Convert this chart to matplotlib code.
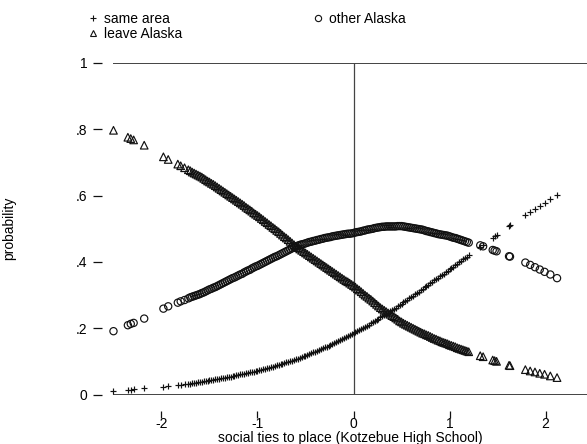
import matplotlib
matplotlib.use("Agg")
import matplotlib.pyplot as plt
from matplotlib.lines import Line2D

# social ties to place (x) and predicted probabilities for each outcome
ties = [-2.50, -2.35, -2.32, -2.29, -2.18, -1.98, -1.93, -1.83, -1.80, -1.76,
        -1.72, -1.68, -1.64, -1.60, -1.56, -1.52, -1.48, -1.44, -1.40, -1.36,
        -1.32, -1.28, -1.24, -1.20, -1.16, -1.12, -1.08, -1.04, -1.00, -0.96,
        -0.92, -0.88, -0.84, -0.80, -0.76, -0.72, -0.68, -0.64, -0.60, -0.56,
        -0.52, -0.48, -0.44, -0.40, -0.36, -0.32, -0.28, -0.24, -0.20, -0.16,
        -0.12, -0.08, -0.04, 0.00, 0.04, 0.08, 0.12, 0.16, 0.20, 0.24,
        0.28, 0.32, 0.36, 0.40, 0.44, 0.48, 0.52, 0.56, 0.60, 0.64,
        0.68, 0.72, 0.76, 0.80, 0.84, 0.88, 0.92, 0.96, 1.00, 1.04,
        1.08, 1.12, 1.16, 1.20, 1.32, 1.35, 1.45, 1.47, 1.49, 1.62,
        1.63, 1.79, 1.84, 1.89, 1.94, 1.99, 2.05, 2.12,
        -1.70, -1.66, -1.62, -1.58, -1.54, -1.50, -1.46, -1.42, -1.38, -1.34,
        -1.30, -1.26, -1.22, -1.18, -1.14, -1.10, -1.06, -1.02, -0.98, -0.94,
        -0.90, -0.86, -0.82, -0.78, -0.74, -0.70, -0.66, -0.62, -0.58, -0.54,
        -0.50, -0.46, -0.42, -0.38, -0.34, -0.30, -0.26, -0.22, -0.18, -0.14,
        -0.10, -0.06, -0.02, 0.02, 0.06, 0.10, 0.14, 0.18, 0.22, 0.26,
        0.30, 0.34, 0.38, 0.42, 0.46, 0.50, 0.54, 0.58, 0.62, 0.66,
        0.70, 0.74, 0.78, 0.82, 0.86, 0.90, 0.94, 0.98, 1.02, 1.06,
        1.10, 1.14, 1.18]

same_area = [.012, .015, .015, .016, .019, .024, .025, .028, .029, .031,
             .032, .034, .036, .038, .040, .042, .044, .046, .048, .050,
             .052, .054, .057, .059, .062, .064, .067, .069, .072, .075,
             .078, .081, .084, .088, .091, .095, .098, .102, .106, .110,
             .115, .119, .124, .129, .134, .139, .144, .150, .155, .161,
             .167, .173, .179, .185, .191, .198, .205, .211, .218, .225,
             .233, .240, .247, .255, .262, .270, .278, .286, .294, .302,
             .310, .318, .327, .335, .344, .352, .361, .369, .378, .386,
             .395, .403, .412, .420, .446, .452, .473, .477, .481, .508,
             .510, .541, .551, .561, .570, .579, .590, .603,
             .033, .035, .037, .039, .041, .043, .045, .047, .049, .051,
             .053, .056, .058, .061, .063, .066, .068, .071, .074, .077,
             .080, .083, .086, .090, .093, .097, .100, .104, .108, .113,
             .117, .122, .127, .132, .137, .142, .147, .153, .158, .164,
             .170, .176, .182, .188, .195, .202, .208, .215, .222, .229,
             .237, .244, .251, .259, .266, .274, .282, .290, .298, .306,
             .314, .323, .331, .340, .348, .357, .365, .374, .382, .391,
             .399, .408, .416]

other_alaska = [.191, .209, .213, .216, .229, .259, .266, .277, .281, .285,
                .290, .295, .299, .303, .308, .314, .319, .324, .330, .336,
                .342, .348, .353, .359, .364, .371, .376, .383, .388, .394,
                .400, .406, .412, .417, .423, .429, .435, .441, .447, .451,
                .454, .458, .461, .464, .467, .470, .473, .475, .478, .480,
                .482, .484, .485, .487, .490, .492, .495, .498, .500, .503,
                .505, .506, .507, .507, .507, .508, .507, .505, .503, .501,
                .499, .497, .493, .490, .487, .484, .482, .480, .477, .473,
                .470, .466, .462, .458, .450, .447, .436, .434, .432, .417,
                .416, .398, .391, .384, .377, .370, .362, .351,
                .293, .297, .301, .306, .311, .317, .322, .327, .333, .339,
                .345, .351, .356, .362, .368, .374, .380, .386, .391, .397,
                .403, .409, .415, .420, .426, .432, .438, .444, .449, .453,
                .456, .460, .463, .466, .469, .472, .474, .477, .479, .481,
                .483, .485, .486, .489, .491, .494, .497, .499, .502, .504,
                .506, .507, .507, .507, .508, .508, .506, .504, .502, .500,
                .498, .495, .492, .489, .486, .483, .481, .479, .475, .472,
                .468, .464, .460]

leave_alaska = [.797, .776, .772, .768, .752, .717, .709, .695, .690, .684,
                .678, .671, .665, .659, .652, .644, .637, .630, .622, .614,
                .606, .598, .590, .582, .574, .565, .557, .548, .540, .531,
                .522, .513, .504, .495, .486, .476, .467, .457, .447, .439,
                .431, .423, .415, .407, .399, .391, .383, .375, .367, .359,
                .351, .343, .336, .328, .319, .310, .300, .291, .282, .272,
                .262, .254, .246, .238, .231, .222, .215, .209, .203, .197,
                .191, .185, .180, .175, .169, .164, .159, .155, .150, .146,
                .141, .137, .133, .129, .117, .114, .104, .102, .100, .088,
                .087, .075, .071, .068, .064, .061, .056, .051,
                .675, .668, .662, .656, .648, .641, .634, .626, .618, .610,
                .602, .594, .586, .578, .570, .561, .553, .544, .536, .527,
                .518, .509, .500, .491, .481, .472, .462, .452, .443, .435,
                .427, .419, .411, .403, .395, .387, .379, .371, .363, .355,
                .347, .340, .332, .324, .315, .305, .296, .287, .277, .267,
                .258, .250, .242, .235, .227, .219, .212, .206, .200, .194,
                .188, .183, .178, .172, .167, .162, .157, .153, .148, .144,
                .139, .135, .131]

xticks = [-2, -1, 0, 1, 2]
xticklabels = ["-2", "-1", "0", "1", "2"]
yticks = [0, 0.2, 0.4, 0.6, 0.8, 1]
yticklabels = ["0", ".2", ".4", ".6", ".8", "1"]

plt.rcParams['font.family'] = ['Liberation Sans', 'DejaVu Sans']
FS = 10

W, H = 587, 444
fig = plt.figure(figsize=(W / 100, H / 100), dpi=100)
ax = fig.add_axes([113 / W, (H - 394.5) / H, (W - 113) / W, 331.5 / H])
ax.set_xlim(-2.505, 2.432)
ax.set_ylim(0, 1)

col = '#111111'
ax.axhline(0, color=col, lw=1.1, zorder=1)
ax.axhline(1, color=col, lw=1.1, zorder=1)
ax.axvline(0, color='#444444', lw=0.9, zorder=1)

ax.scatter(ties, same_area, marker='+', s=16, c=col, linewidths=0.85,
           clip_on=False, zorder=3)
ax.scatter(ties, other_alaska, marker='o', s=27, facecolors='none',
           edgecolors=col, linewidths=0.85, clip_on=False, zorder=3)
ax.scatter(ties, leave_alaska, marker='^', s=30, facecolors='none',
           edgecolors=col, linewidths=0.85, clip_on=False, zorder=3)

for s in ['top', 'right', 'left', 'bottom']:
    ax.spines[s].set_visible(False)
ax.spines['left'].set_position(('outward', 8))
ax.spines['bottom'].set_position(('outward', 12))

ax.set_xticks(xticks)
ax.set_xticklabels(xticklabels)
ax.set_yticks(yticks)
ax.set_yticklabels(yticklabels)
ax.tick_params(axis='y', direction='out', length=6.5, width=0.9, color=col,
               pad=4, labelsize=FS)
ax.tick_params(axis='x', direction='out', length=5, width=0.9, color=col,
               pad=-0.5, labelsize=FS)

ax.set_xlabel("social ties to place (Kotzebue High School)", fontsize=FS)
ax.xaxis.label.set_va('baseline')
ax.xaxis.set_label_coords(0.5, (394.5 - 441.5) / 331.5)
ax.set_ylabel("probability", fontsize=FS, labelpad=43)

handles = [
    Line2D([], [], ls='none', marker='+', ms=4, mew=0.8, color=col),
    Line2D([], [], ls='none', marker='^', ms=4.5, mew=0.8, mfc='none', color=col),
    Line2D([], [], ls='none', marker='o', ms=4.5, mew=0.8, mfc='none', color=col),
]
labels = ["same area", "leave Alaska", "other Alaska"]
fig.legend(handles, labels, ncol=2, frameon=False, loc='upper left',
           bbox_to_anchor=(80 / W, 1 - 5 / H), fontsize=FS,
           handlelength=0.8, handletextpad=0.4, columnspacing=9.4,
           labelspacing=0.1, borderpad=0)

fig.savefig("out.png", dpi=100)
